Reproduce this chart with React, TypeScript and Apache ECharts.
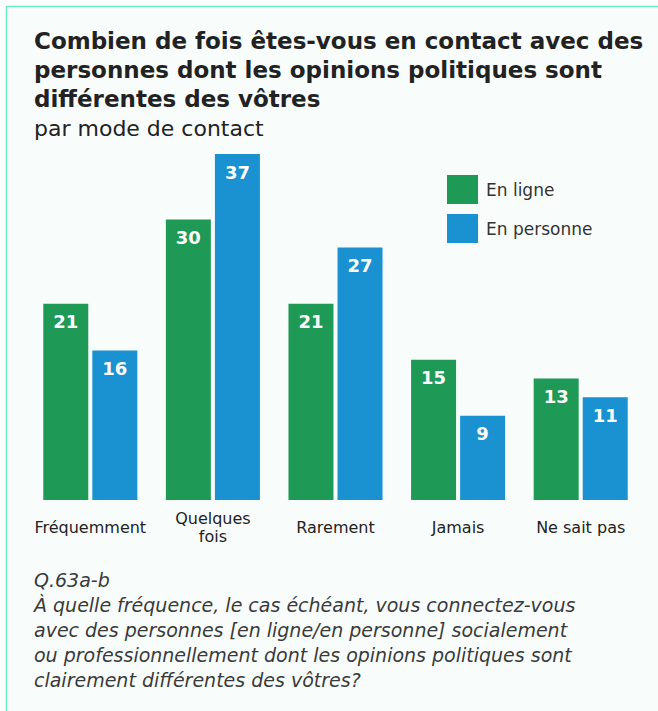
import React, { useEffect, useRef } from "react";
import * as echarts from "echarts";

const categories = ["Fréquemment", "Quelques\nfois", "Rarement", "Jamais", "Ne sait pas"];
const enLigne = [21, 30, 21, 15, 13];
const enPersonne = [16, 37, 27, 9, 11];
const seriesNames = ["En ligne", "En personne"];

const titleText = "Combien de fois êtes-vous en contact avec des\npersonnes dont les opinions politiques sont\ndifférentes des vôtres";
const subtitleText = "par mode de contact";
const footnoteLines = [
  "Q.63a-b",
  "À quelle fréquence, le cas échéant, vous connectez-vous",
  "avec des personnes [en ligne/en personne] socialement",
  "ou professionnellement dont les opinions politiques sont",
  "clairement différentes des vôtres?",
];

const GREEN = "#1e9a56";
const BLUE = "#1a91d1";
const FONT = "'DejaVu Sans', sans-serif";

export default function App() {
  const ref = useRef<HTMLDivElement>(null);
  useEffect(() => {
    document.body.style.margin = "0";
    const chart = echarts.init(ref.current!, null, { renderer: "svg" });
    const labelCommon = {
      show: true,
      position: "insideTop" as const,
      distance: 9,
      color: "#ffffff",
      fontSize: 18,
      fontWeight: "bold" as const,
      fontFamily: FONT,
    };
    chart.setOption({
      animation: false,
      backgroundColor: "#ffffff",
      textStyle: { fontFamily: FONT },
      graphic: [
        {
          type: "rect",
          z: -10,
          shape: { x: 6, y: 6, width: 660, height: 710 },
          style: { fill: "#f8fdfc" },
          silent: true,
        },
        {
          type: "line",
          z: -9,
          shape: { x1: 6, y1: 6.5, x2: 658, y2: 6.5 },
          style: { stroke: "#6fe8c6", lineWidth: 1.5 },
          silent: true,
        },
        {
          type: "line",
          z: -9,
          shape: { x1: 6.5, y1: 6, x2: 6.5, y2: 711 },
          style: { stroke: "#6fe8c6", lineWidth: 1.5 },
          silent: true,
        },
        {
          type: "text",
          left: 34,
          top: 26,
          style: {
            text: titleText,
            fontSize: 23,
            fontWeight: "bold",
            fontFamily: FONT,
            fill: "#222222",
            lineHeight: 29,
          },
        },
        {
          type: "text",
          left: 34,
          top: 117,
          style: {
            text: subtitleText,
            fontSize: 22,
            fontFamily: FONT,
            fill: "#222222",
          },
        },
        {
          type: "text",
          left: 34,
          top: 567,
          style: {
            text: footnoteLines.join("\n"),
            fontSize: 19,
            fontStyle: "italic",
            fontFamily: FONT,
            fill: "#3a3a3a",
            lineHeight: 25,
          },
        },
      ],
      legend: {
        orient: "vertical",
        left: 447,
        top: 175,
        padding: 0,
        itemWidth: 31,
        itemHeight: 29,
        itemGap: 10,
        icon: "rect",
        data: seriesNames,
        textStyle: { fontSize: 17, color: "#333333", fontFamily: FONT, padding: [0, 0, 0, 3] },
      },
      grid: { left: 29, right: 16, top: 126, height: 374, containLabel: false },
      xAxis: {
        type: "category",
        data: categories,
        axisLine: { show: false },
        axisTick: { show: false },
        axisLabel: {
          interval: 0,
          margin: 27,
          fontSize: 16,
          color: "#222222",
          fontFamily: FONT,
          lineHeight: 18,
          verticalAlign: "middle",
        },
      },
      yAxis: {
        type: "value",
        min: 0,
        max: 40,
        show: false,
        splitLine: { show: false },
      },
      series: [
        {
          name: seriesNames[0],
          type: "bar",
          data: enLigne,
          barWidth: 45,
          barGap: "9%",
          itemStyle: { color: GREEN },
          label: labelCommon,
        },
        {
          name: seriesNames[1],
          type: "bar",
          data: enPersonne,
          barWidth: 45,
          barGap: "9%",
          itemStyle: { color: BLUE },
          label: labelCommon,
        },
      ],
    });
    return () => chart.dispose();
  }, []);
  return <div ref={ref} style={{ width: 658, height: 711 }} />;
}
